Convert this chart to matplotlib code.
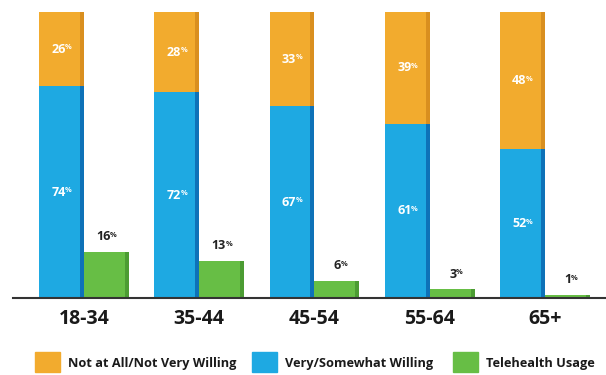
import numpy as np
import matplotlib
matplotlib.use('Agg')
import matplotlib.pyplot as plt
from matplotlib.patches import Rectangle

ages = ['18-34', '35-44', '45-54', '55-64', '65+']
not_willing = [26, 28, 33, 39, 48]
willing = [74, 72, 67, 61, 52]
telehealth = [16, 13, 6, 3, 1]
legend_labels = ['Not at All/Not Very Willing', 'Very/Somewhat Willing',
                 'Telehealth Usage']

orange, orange_dk = '#F2AB2E', '#D98F1F'
blue, blue_dk = '#1EA9E2', '#0E72B8'
green, green_dk = '#67BE45', '#4C9C33'

plt.rcParams['font.family'] = ['Open Sans', 'DejaVu Sans']

fig = plt.figure(figsize=(6.06, 3.75), dpi=100)
ax = fig.add_axes([13 / 606, 77 / 375, 593 / 606, 286 / 375])

x = np.arange(len(ages))
w = 0.39
shade = 0.035


def shaded_bar(xs, h, bottom, color, dark):
    ax.bar(xs, h, w, bottom=bottom, color=color, linewidth=0, zorder=2)
    ax.bar(xs + w / 2 - shade / 2, h, shade, bottom=bottom, color=dark,
           linewidth=0, zorder=3)


def pct_label(xv, yv, val, color, dy=0, size=9):
    ax.annotate(str(val), (xv, yv), xytext=(3, dy), textcoords='offset points',
                ha='right', va='center', fontsize=size, fontweight='bold',
                color=color, zorder=5)
    ax.annotate('%', (xv, yv), xytext=(2.6, dy + 1), textcoords='offset points',
                ha='left', va='center', fontsize=size * 0.6, fontweight='bold',
                color=color, zorder=5)


xb = x - w / 2
xg = x + w / 2
shaded_bar(xb, willing, 0, blue, blue_dk)
shaded_bar(xb, not_willing, willing, orange, orange_dk)
shaded_bar(xg, telehealth, 0, green, green_dk)

for i in range(len(ages)):
    pct_label(xb[i], willing[i] + not_willing[i] / 2, not_willing[i], 'white')
    pct_label(xb[i], willing[i] / 2, willing[i], 'white')
    pct_label(xg[i], telehealth[i], telehealth[i], '#222222', dy=11)

ax.set_xlim(-0.616, 4.53)
ax.set_ylim(0, 100)
ax.set_xticks(x)
ax.set_xticklabels(ages, fontsize=14, fontweight='bold', color='#1a1a1a')
ax.tick_params(axis='x', length=0, pad=8)
ax.set_yticks([])
for s in ['top', 'right', 'left']:
    ax.spines[s].set_visible(False)
ax.spines['bottom'].set_color('#333333')
ax.spines['bottom'].set_linewidth(1.5)
ax.spines['bottom'].set_zorder(6)

# legend
leg_colors = [orange, blue, green]
leg_x = [35, 252, 453]
for lx, c, lab in zip(leg_x, leg_colors, legend_labels):
    fig.patches.append(Rectangle((lx / 606, 3 / 375), 25 / 606, 20 / 375,
                                 transform=fig.transFigure, color=c))
    fig.text((lx + 33) / 606, 12 / 375, lab, ha='left', va='center',
             fontsize=9.2, fontweight='bold', color='#1a1a1a')

fig.savefig('out.png', dpi=100)
